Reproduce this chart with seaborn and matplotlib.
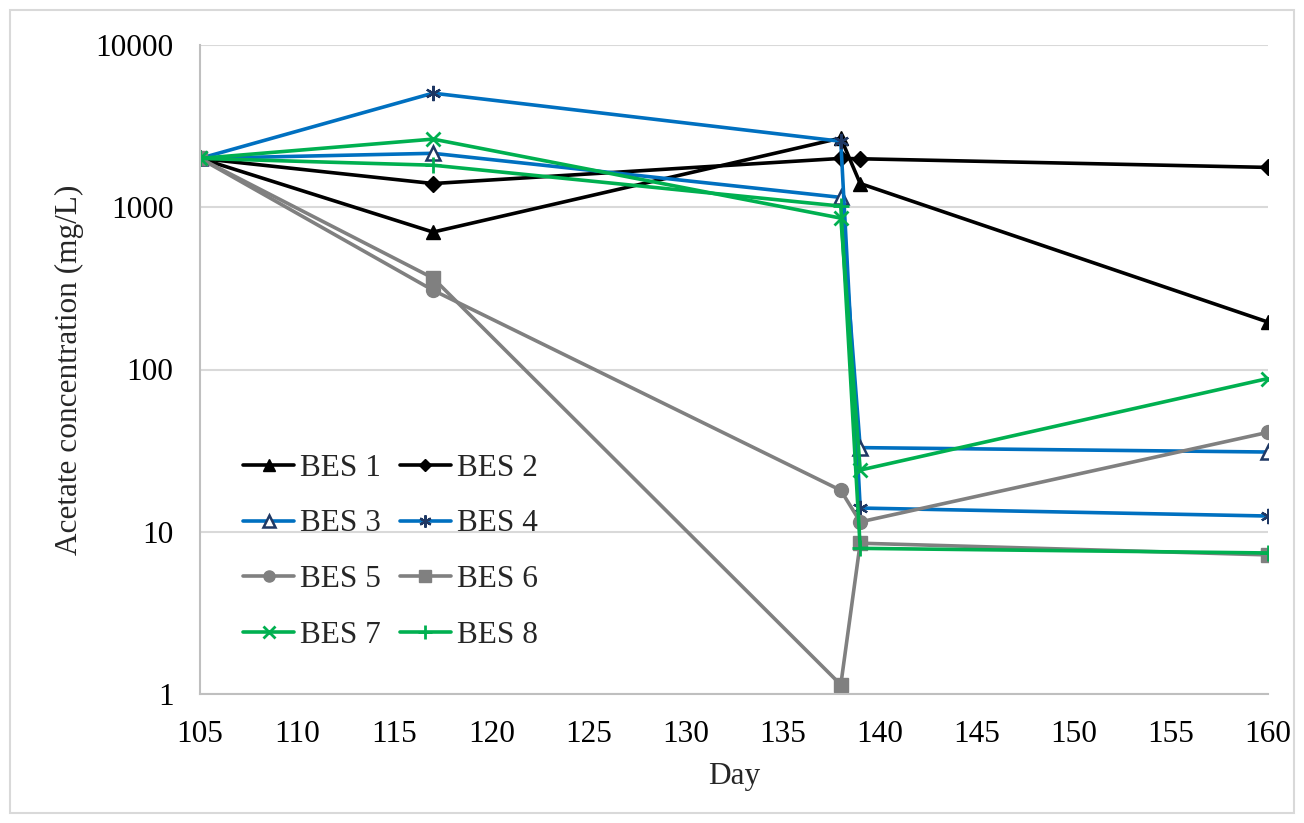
import matplotlib
matplotlib.use("Agg")
import matplotlib.pyplot as plt
import seaborn as sns
import pandas as pd
from matplotlib.patches import Rectangle

days = [105, 117, 138, 139, 160]
bes1 = [2000, 703, 2670, 1400, 196]
bes2 = [2000, 1400, 2000, 1990, 1760]
bes3 = [2000, 2150, 1150, 33, 31]
bes4 = [2000, 5050, 2550, 14, 12.5]
bes5 = [2000, 308, 18, 11.5, 41]
bes6 = [2000, 366, 1.14, 8.5, 7.2]
bes7 = [2000, 2630, 857, 24, 88]
bes8 = [2000, 1816, 1016, 7.9, 7.4]
labels = ["BES 1", "BES 2", "BES 3", "BES 4", "BES 5", "BES 6", "BES 7", "BES 8"]
series = [bes1, bes2, bes3, bes4, bes5, bes6, bes7, bes8]

sns.set_theme(style="white")
plt.rcParams['font.family'] = ['Liberation Serif', 'DejaVu Serif']

black = "#000000"
blue = "#0070C0"
gray = "#808080"
green = "#00B050"
navy = "#1F3864"

styles = [
    dict(color=black, marker="^", mfc=black, mec=black, ms=10),
    dict(color=black, marker="D", mfc=black, mec=black, ms=8),
    dict(color=blue, marker="^", mfc="white", mec=navy, ms=10, mew=1.8),
    dict(color=blue, marker=(6, 2, 0), mfc=navy, mec=navy, ms=11, mew=1.6),
    dict(color=gray, marker="o", mfc=gray, mec=gray, ms=10),
    dict(color=gray, marker="s", mfc=gray, mec=gray, ms=10),
    dict(color=green, marker="x", mfc=green, mec=green, ms=10, mew=2),
    dict(color=green, marker="+", mfc=green, mec=green, ms=12, mew=2),
]

fig = plt.figure(figsize=(13.04, 8.23), dpi=100)
fig.patches.append(Rectangle((10/1304, 10/823), 1284/1304, 803/823, transform=fig.transFigure,
                             fill=False, edgecolor="#D9D9D9", linewidth=1.5))
ax = fig.add_axes([200/1304, 1-694/823, 1068/1304, 649/823])

for lab, vals, st in zip(labels, series, styles):
    df = pd.DataFrame({"Day": days, "val": vals})
    sns.lineplot(data=df, x="Day", y="val", ax=ax, color=st["color"], linewidth=2.6,
                 marker=st["marker"], markerfacecolor=st["mfc"], markeredgecolor=st["mec"],
                 markersize=st["ms"], markeredgewidth=st.get("mew", 1.0), label=lab,
                 estimator=None, sort=False)

ax.set_yscale("log")
ax.set_ylim(1, 10000)
ax.set_xlim(105, 160)
ax.set_xticks(range(105, 161, 5))
ax.set_yticks([1, 10, 100, 1000, 10000])
ax.set_yticklabels(["1", "10", "100", "1000", "10000"])
ax.minorticks_off()
ax.yaxis.grid(True, color="#D9D9D9", linewidth=1.5)
ax.xaxis.grid(False)
for s in ["top", "right"]:
    ax.spines[s].set_visible(False)
for s in ["left", "bottom"]:
    ax.spines[s].set_color("#BFBFBF")
    ax.spines[s].set_linewidth(1.5)
fs = 22.5
ax.tick_params(axis="both", labelsize=fs, length=0, colors="black")
ax.tick_params(axis="x", pad=19)
ax.tick_params(axis="y", pad=19)
ax.set_xlabel("Day", fontsize=fs, labelpad=9)
ax.set_ylabel("Acetate concentration (mg/L)", fontsize=fs, labelpad=8)

handles, labs = ax.get_legend_handles_labels()
order = [0, 2, 4, 6, 1, 3, 5, 7]
leg = ax.legend([handles[i] for i in order], [labs[i] for i in order], ncol=2, loc="upper left",
                bbox_to_anchor=(221/1304, 1-432/823),
                bbox_transform=fig.transFigure, frameon=False, fontsize=fs,
                handlelength=1.65, handletextpad=0.18, columnspacing=0.6, labelspacing=0.85,
                borderpad=0.2, markerscale=0.8)

fig.savefig("out.png", dpi=100, facecolor="white")
